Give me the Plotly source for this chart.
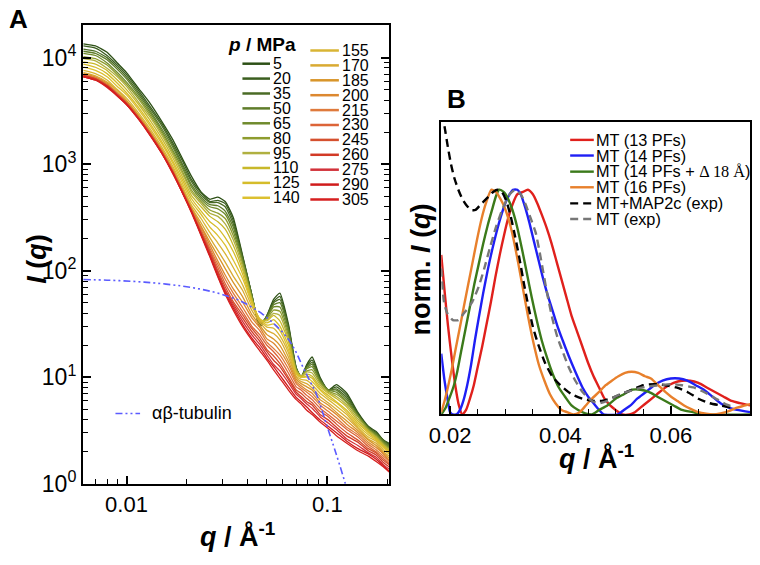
import plotly.graph_objects as go

W, H = 760, 565
OFF_X, OFF_Y = 16, 8          # measured page offset of the exported html
FONT = "Liberation Sans, Arial, sans-serif"


def px(x):
    return (x - OFF_X) / W


def py(y):
    return 1 - (y - OFF_Y) / H


# ---------------- Panel A data ----------------
pressures_MPa = [5, 20, 35, 50, 65, 80, 95, 110, 125, 140, 155,
                 170, 185, 200, 215, 230, 245, 260, 275, 290, 305]
pressure_colors = ["#2d5016", "#3b5e1f", "#4a6b25", "#5f7d2a", "#6f8a2c",
                   "#8e9c2e", "#b0b040", "#c8b82a", "#d5bc2a", "#dcc030",
                   "#d9b534", "#d9aa32", "#d8952a", "#dc8830", "#df7a3c",
                   "#dc6438", "#d5502e", "#d23a26", "#d2323a", "#d01c1c",
                   "#d61f1f"]

q_A = [0.0061, 0.0070, 0.0080, 0.0090, 0.0100, 0.0115, 0.0130, 0.0150, 0.0170,
       0.0190, 0.0210, 0.0235, 0.0260, 0.0285, 0.0310, 0.0340, 0.0380, 0.0420,
       0.0460, 0.0500, 0.0540, 0.0580, 0.0640, 0.0700, 0.0740, 0.0790, 0.0840,
       0.0920, 0.1010, 0.1110, 0.1250, 0.1420, 0.1600, 0.1750, 0.1900, 0.2030]

# log10 I(q), one list per pressure
log10_I_005 = [4.13, 4.11, 4.05, 3.95, 3.86, 3.71, 3.58, 3.40, 3.23, 3.05, 2.89, 2.74, 2.67, 2.69, 2.65, 2.50, 2.13, 1.78, 1.47, 1.58, 1.73, 1.79, 1.50, 1.09, 1.00, 1.12, 1.19, 1.00, 0.88, 0.93, 0.85, 0.67, 0.54, 0.49, 0.41, 0.38]
log10_I_020 = [4.11, 4.09, 4.02, 3.93, 3.84, 3.69, 3.55, 3.38, 3.20, 3.03, 2.86, 2.73, 2.65, 2.66, 2.63, 2.47, 2.12, 1.78, 1.48, 1.58, 1.71, 1.76, 1.48, 1.09, 1.00, 1.11, 1.16, 0.99, 0.88, 0.91, 0.83, 0.66, 0.53, 0.48, 0.41, 0.37]
log10_I_035 = [4.08, 4.06, 4.00, 3.91, 3.82, 3.67, 3.53, 3.36, 3.18, 3.00, 2.84, 2.71, 2.64, 2.64, 2.60, 2.44, 2.11, 1.78, 1.49, 1.57, 1.70, 1.73, 1.47, 1.08, 1.00, 1.10, 1.14, 0.98, 0.88, 0.89, 0.81, 0.65, 0.53, 0.47, 0.41, 0.36]
log10_I_050 = [4.06, 4.04, 3.98, 3.89, 3.80, 3.65, 3.51, 3.33, 3.16, 2.98, 2.81, 2.69, 2.62, 2.61, 2.56, 2.41, 2.09, 1.77, 1.50, 1.57, 1.68, 1.70, 1.45, 1.08, 1.01, 1.09, 1.12, 0.97, 0.88, 0.88, 0.79, 0.64, 0.52, 0.47, 0.40, 0.35]
log10_I_065 = [4.04, 4.02, 3.95, 3.86, 3.77, 3.63, 3.49, 3.31, 3.13, 2.96, 2.79, 2.67, 2.60, 2.58, 2.53, 2.37, 2.07, 1.76, 1.51, 1.56, 1.66, 1.66, 1.42, 1.07, 1.01, 1.08, 1.10, 0.96, 0.88, 0.86, 0.77, 0.64, 0.52, 0.46, 0.39, 0.34]
log10_I_080 = [4.01, 3.99, 3.93, 3.84, 3.75, 3.61, 3.47, 3.29, 3.11, 2.93, 2.76, 2.65, 2.57, 2.54, 2.49, 2.33, 2.06, 1.75, 1.52, 1.55, 1.63, 1.62, 1.39, 1.07, 1.01, 1.06, 1.07, 0.95, 0.87, 0.84, 0.76, 0.63, 0.51, 0.45, 0.38, 0.33]
log10_I_095 = [3.99, 3.97, 3.90, 3.82, 3.73, 3.58, 3.45, 3.27, 3.09, 2.91, 2.74, 2.63, 2.54, 2.51, 2.44, 2.29, 2.03, 1.74, 1.53, 1.54, 1.60, 1.58, 1.36, 1.06, 1.01, 1.05, 1.04, 0.93, 0.86, 0.82, 0.74, 0.61, 0.50, 0.44, 0.37, 0.32]
log10_I_110 = [3.96, 3.94, 3.88, 3.79, 3.70, 3.56, 3.42, 3.24, 3.06, 2.88, 2.71, 2.60, 2.51, 2.46, 2.39, 2.24, 2.00, 1.73, 1.54, 1.53, 1.58, 1.53, 1.34, 1.05, 1.01, 1.03, 1.01, 0.91, 0.85, 0.80, 0.72, 0.59, 0.49, 0.43, 0.36, 0.31]
log10_I_125 = [3.94, 3.91, 3.85, 3.76, 3.67, 3.53, 3.39, 3.21, 3.03, 2.85, 2.68, 2.56, 2.46, 2.40, 2.31, 2.18, 1.96, 1.71, 1.55, 1.51, 1.54, 1.48, 1.30, 1.04, 1.00, 1.01, 0.99, 0.89, 0.83, 0.77, 0.69, 0.57, 0.48, 0.42, 0.35, 0.30]
log10_I_140 = [3.91, 3.88, 3.82, 3.73, 3.65, 3.51, 3.37, 3.19, 3.01, 2.82, 2.65, 2.53, 2.41, 2.33, 2.24, 2.10, 1.92, 1.70, 1.55, 1.49, 1.50, 1.44, 1.26, 1.03, 1.00, 1.00, 0.96, 0.88, 0.81, 0.76, 0.67, 0.55, 0.46, 0.41, 0.34, 0.29]
log10_I_155 = [3.88, 3.85, 3.79, 3.70, 3.62, 3.48, 3.34, 3.16, 2.98, 2.79, 2.62, 2.49, 2.36, 2.26, 2.16, 2.03, 1.86, 1.67, 1.54, 1.47, 1.46, 1.39, 1.23, 1.01, 0.98, 0.97, 0.93, 0.85, 0.79, 0.73, 0.65, 0.53, 0.44, 0.40, 0.32, 0.28]
log10_I_170 = [3.86, 3.83, 3.77, 3.69, 3.60, 3.46, 3.32, 3.14, 2.96, 2.77, 2.60, 2.45, 2.31, 2.19, 2.08, 1.95, 1.81, 1.63, 1.52, 1.44, 1.41, 1.35, 1.19, 1.00, 0.96, 0.94, 0.90, 0.82, 0.76, 0.70, 0.62, 0.52, 0.42, 0.38, 0.30, 0.26]
log10_I_185 = [3.85, 3.82, 3.76, 3.67, 3.59, 3.45, 3.31, 3.13, 2.94, 2.76, 2.59, 2.42, 2.27, 2.14, 2.02, 1.89, 1.75, 1.59, 1.49, 1.40, 1.36, 1.30, 1.15, 0.98, 0.94, 0.91, 0.88, 0.79, 0.74, 0.67, 0.59, 0.50, 0.41, 0.36, 0.29, 0.24]
log10_I_200 = [3.84, 3.81, 3.75, 3.66, 3.58, 3.44, 3.30, 3.12, 2.94, 2.75, 2.58, 2.41, 2.24, 2.09, 1.96, 1.83, 1.70, 1.56, 1.47, 1.36, 1.32, 1.25, 1.12, 0.96, 0.92, 0.88, 0.85, 0.76, 0.71, 0.65, 0.56, 0.48, 0.39, 0.34, 0.28, 0.22]
log10_I_215 = [3.84, 3.81, 3.74, 3.66, 3.58, 3.44, 3.30, 3.12, 2.93, 2.75, 2.57, 2.39, 2.21, 2.06, 1.92, 1.79, 1.65, 1.52, 1.44, 1.33, 1.27, 1.21, 1.08, 0.94, 0.90, 0.86, 0.82, 0.74, 0.68, 0.62, 0.53, 0.46, 0.37, 0.32, 0.26, 0.21]
log10_I_230 = [3.83, 3.80, 3.74, 3.66, 3.57, 3.43, 3.30, 3.11, 2.93, 2.74, 2.57, 2.37, 2.19, 2.03, 1.88, 1.75, 1.61, 1.48, 1.40, 1.30, 1.24, 1.17, 1.04, 0.91, 0.88, 0.83, 0.79, 0.71, 0.65, 0.59, 0.51, 0.44, 0.35, 0.30, 0.24, 0.19]
log10_I_245 = [3.83, 3.80, 3.74, 3.65, 3.57, 3.43, 3.29, 3.11, 2.93, 2.74, 2.57, 2.36, 2.18, 2.00, 1.85, 1.71, 1.58, 1.46, 1.37, 1.26, 1.20, 1.13, 1.00, 0.88, 0.85, 0.80, 0.76, 0.68, 0.63, 0.56, 0.48, 0.41, 0.33, 0.29, 0.22, 0.18]
log10_I_260 = [3.83, 3.80, 3.73, 3.65, 3.57, 3.43, 3.29, 3.11, 2.92, 2.74, 2.56, 2.35, 2.16, 1.98, 1.82, 1.69, 1.55, 1.43, 1.34, 1.24, 1.16, 1.10, 0.98, 0.86, 0.82, 0.77, 0.74, 0.65, 0.60, 0.53, 0.45, 0.39, 0.31, 0.27, 0.20, 0.16]
log10_I_275 = [3.82, 3.79, 3.73, 3.65, 3.56, 3.43, 3.29, 3.10, 2.92, 2.73, 2.56, 2.34, 2.15, 1.96, 1.81, 1.67, 1.52, 1.40, 1.31, 1.21, 1.12, 1.06, 0.95, 0.84, 0.80, 0.75, 0.71, 0.63, 0.57, 0.51, 0.42, 0.36, 0.29, 0.25, 0.18, 0.14]
log10_I_290 = [3.82, 3.79, 3.73, 3.64, 3.56, 3.42, 3.28, 3.10, 2.92, 2.73, 2.56, 2.34, 2.14, 1.95, 1.79, 1.65, 1.49, 1.37, 1.28, 1.18, 1.10, 1.02, 0.91, 0.81, 0.77, 0.72, 0.67, 0.60, 0.54, 0.48, 0.40, 0.33, 0.28, 0.23, 0.17, 0.12]
log10_I_305 = [3.82, 3.79, 3.72, 3.64, 3.56, 3.42, 3.28, 3.10, 2.91, 2.73, 2.55, 2.33, 2.13, 1.94, 1.78, 1.63, 1.47, 1.35, 1.25, 1.16, 1.07, 0.99, 0.88, 0.79, 0.75, 0.69, 0.65, 0.58, 0.52, 0.45, 0.38, 0.31, 0.26, 0.21, 0.16, 0.11]

curves_A = [log10_I_005, log10_I_020, log10_I_035, log10_I_050, log10_I_065,
            log10_I_080, log10_I_095, log10_I_110, log10_I_125, log10_I_140,
            log10_I_155, log10_I_170, log10_I_185, log10_I_200, log10_I_215,
            log10_I_230, log10_I_245, log10_I_260, log10_I_275, log10_I_290,
            log10_I_305]

q_tubulin = [0.0061, 0.0080, 0.0107, 0.0140, 0.0187, 0.0230, 0.0272, 0.0320,
             0.0369, 0.0420, 0.0477, 0.0550, 0.0626, 0.0690, 0.0751, 0.0810,
             0.0881, 0.0950, 0.1017, 0.1080, 0.1140, 0.1230, 0.1300]
I_tubulin = [82.6, 81.5, 79.5, 76.5, 72, 67.5, 63, 57.5, 52, 45.5, 39, 31,
             24, 18, 12.8, 9.6, 7.0, 4.6, 3.1, 2.2, 1.6, 1.0, 0.7]

# ---------------- Panel B data ----------------
q_13PF = [0.0184, 0.0190, 0.0196, 0.0203, 0.0210, 0.0216, 0.0222, 0.0229, 0.0236, 0.0243, 0.0250, 0.0258, 0.0266, 0.0274, 0.0282, 0.0290, 0.0298, 0.0306, 0.0314, 0.0322, 0.0332, 0.0341, 0.0350, 0.0358, 0.0366, 0.0375, 0.0384, 0.0393, 0.0402, 0.0411, 0.0420, 0.0430, 0.0440, 0.0450, 0.0460, 0.0470, 0.0480, 0.0490, 0.0500, 0.0512, 0.0525, 0.0535, 0.0545, 0.0560, 0.0575, 0.0590, 0.0605, 0.0620, 0.0635, 0.0650, 0.0665, 0.0680, 0.0695, 0.0710, 0.0725, 0.0744]
n_13PF = [0.71, 0.55, 0.40, 0.25, 0.12, 0.04, 0.00, 0.02, 0.07, 0.13, 0.21, 0.30, 0.40, 0.50, 0.61, 0.71, 0.80, 0.88, 0.94, 0.98, 0.99, 1.00, 0.98, 0.94, 0.89, 0.83, 0.76, 0.68, 0.60, 0.52, 0.44, 0.37, 0.30, 0.23, 0.17, 0.12, 0.07, 0.04, 0.02, 0.00, 0.00, 0.01, 0.03, 0.06, 0.09, 0.12, 0.14, 0.15, 0.15, 0.14, 0.12, 0.10, 0.08, 0.06, 0.05, 0.04]

q_14PF = [0.0184, 0.0190, 0.0196, 0.0200, 0.0204, 0.0212, 0.0218, 0.0224, 0.0231, 0.0238, 0.0245, 0.0252, 0.0260, 0.0268, 0.0276, 0.0284, 0.0292, 0.0300, 0.0308, 0.0314, 0.0322, 0.0328, 0.0335, 0.0343, 0.0351, 0.0359, 0.0368, 0.0377, 0.0386, 0.0395, 0.0404, 0.0415, 0.0427, 0.0440, 0.0450, 0.0460, 0.0470, 0.0478, 0.0504, 0.0515, 0.0527, 0.0539, 0.0555, 0.0570, 0.0585, 0.0600, 0.0615, 0.0630, 0.0645, 0.0660, 0.0675, 0.0690, 0.0705, 0.0720, 0.0744]
n_14PF = [0.27, 0.15, 0.06, 0.01, 0.00, 0.00, 0.02, 0.06, 0.13, 0.22, 0.33, 0.43, 0.54, 0.64, 0.73, 0.81, 0.88, 0.94, 0.98, 1.00, 1.00, 0.98, 0.93, 0.86, 0.78, 0.70, 0.61, 0.53, 0.46, 0.39, 0.33, 0.26, 0.19, 0.12, 0.08, 0.05, 0.02, 0.00, 0.00, 0.02, 0.04, 0.07, 0.10, 0.13, 0.15, 0.16, 0.16, 0.15, 0.13, 0.11, 0.08, 0.05, 0.03, 0.02, 0.01]

q_14PF_d18 = [0.0184, 0.0192, 0.0200, 0.0207, 0.0213, 0.0220, 0.0228, 0.0236, 0.0244, 0.0252, 0.0260, 0.0268, 0.0276, 0.0283, 0.0289, 0.0297, 0.0305, 0.0313, 0.0321, 0.0330, 0.0339, 0.0348, 0.0357, 0.0366, 0.0376, 0.0386, 0.0397, 0.0408, 0.0420, 0.0432, 0.0445, 0.0457, 0.0470, 0.0485, 0.0500, 0.0515, 0.0530, 0.0545, 0.0560, 0.0575, 0.0590, 0.0605, 0.0620, 0.0640, 0.0660, 0.0744]
n_14PF_d18 = [0.00, 0.03, 0.08, 0.13, 0.19, 0.28, 0.38, 0.48, 0.58, 0.67, 0.76, 0.84, 0.91, 0.97, 1.00, 0.99, 0.96, 0.91, 0.84, 0.74, 0.63, 0.52, 0.42, 0.33, 0.25, 0.18, 0.12, 0.08, 0.04, 0.02, 0.005, 0.00, 0.02, 0.04, 0.07, 0.09, 0.11, 0.11, 0.10, 0.08, 0.06, 0.04, 0.02, 0.01, 0.00, 0.00]

q_16PF = [0.0184, 0.0190, 0.0196, 0.0203, 0.0210, 0.0218, 0.0225, 0.0233, 0.0241, 0.0249, 0.0257, 0.0265, 0.0275, 0.0283, 0.0291, 0.0299, 0.0307, 0.0315, 0.0323, 0.0332, 0.0341, 0.0351, 0.0361, 0.0371, 0.0381, 0.0391, 0.0402, 0.0412, 0.0423, 0.0435, 0.0446, 0.0457, 0.0470, 0.0482, 0.0493, 0.0505, 0.0517, 0.0529, 0.0541, 0.0553, 0.0564, 0.0577, 0.0590, 0.0600, 0.0612, 0.0624, 0.0636, 0.0650, 0.0664, 0.0677, 0.0690, 0.0705, 0.0720, 0.0735, 0.0748]
n_16PF = [0.01, 0.06, 0.12, 0.20, 0.29, 0.39, 0.48, 0.58, 0.68, 0.78, 0.87, 0.94, 1.00, 0.99, 0.96, 0.92, 0.86, 0.78, 0.68, 0.56, 0.44, 0.32, 0.22, 0.15, 0.09, 0.05, 0.02, 0.01, 0.00, 0.01, 0.04, 0.07, 0.10, 0.13, 0.15, 0.17, 0.185, 0.19, 0.185, 0.17, 0.16, 0.13, 0.10, 0.08, 0.06, 0.04, 0.025, 0.01, 0.003, 0.00, 0.005, 0.015, 0.03, 0.04, 0.05]

q_MAP2c = [0.0185, 0.0190, 0.0196, 0.0202, 0.0208, 0.0215, 0.0222, 0.0230, 0.0238, 0.0246, 0.0254, 0.0262, 0.0270, 0.0278, 0.0286, 0.0294, 0.0302, 0.0310, 0.0318, 0.0326, 0.0334, 0.0342, 0.0350, 0.0360, 0.0372, 0.0385, 0.0400, 0.0420, 0.0440, 0.0460, 0.0475, 0.0490, 0.0510, 0.0530, 0.0550, 0.0570, 0.0590, 0.0610, 0.0630, 0.0650, 0.0670, 0.0690, 0.0712]
n_MAP2c = [1.34, 1.28, 1.19, 1.11, 1.05, 1.00, 0.96, 0.93, 0.91, 0.91, 0.93, 0.95, 0.97, 0.99, 1.00, 0.99, 0.95, 0.88, 0.79, 0.69, 0.58, 0.48, 0.39, 0.31, 0.23, 0.17, 0.13, 0.09, 0.07, 0.06, 0.06, 0.07, 0.09, 0.11, 0.13, 0.135, 0.13, 0.12, 0.10, 0.07, 0.05, 0.04, 0.03]

q_MTexp = [0.0184, 0.0189, 0.0195, 0.0205, 0.0215, 0.0225, 0.0240, 0.0252, 0.0262, 0.0272, 0.0284, 0.0296, 0.0308, 0.0318, 0.0328, 0.0336, 0.0345, 0.0355, 0.0364, 0.0375, 0.0386, 0.0395, 0.0404, 0.0415, 0.0427, 0.0440, 0.0457, 0.0470, 0.0485, 0.0500, 0.0520, 0.0540, 0.0560, 0.0580, 0.0600, 0.0620, 0.0641, 0.0660, 0.0682, 0.0700, 0.0712]
n_MTexp = [0.65, 0.50, 0.45, 0.42, 0.42, 0.45, 0.50, 0.57, 0.65, 0.74, 0.84, 0.92, 0.98, 1.00, 0.98, 0.94, 0.88, 0.81, 0.70, 0.55, 0.42, 0.34, 0.28, 0.21, 0.15, 0.10, 0.06, 0.05, 0.06, 0.08, 0.10, 0.115, 0.125, 0.13, 0.135, 0.13, 0.12, 0.10, 0.07, 0.045, 0.035]

series_B = [
    ("MT (13 PFs)", q_13PF, n_13PF, "#e0201c", "solid"),
    ("MT (14 PFs)", q_14PF, n_14PF, "#1f1ff5", "solid"),
    ("MT (14 PFs + <span style=\"font-family:'Liberation Serif',serif\">&#916; 18 Å</span>)",
     q_14PF_d18, n_14PF_d18, "#3b7a1a", "solid"),
    ("MT (16 PFs)", q_16PF, n_16PF, "#e8802c", "solid"),
    ("MT+MAP2c (exp)", q_MAP2c, n_MAP2c, "#000000", "8px,5px"),
    ("MT (exp)", q_MTexp, n_MTexp, "#777777", "8px,5px"),
]

fig = go.Figure()

# Panel A curves
for p, col, logI in zip(pressures_MPa, pressure_colors, curves_A):
    fig.add_trace(go.Scatter(
        x=q_A, y=[10 ** v for v in logI], mode="lines",
        line=dict(color=col, width=1.3, shape="spline", smoothing=0.5),
        name=f"{p} MPa", xaxis="x", yaxis="y", showlegend=False))

tub_dash = "7px,3px,2px,3px,2px,3px"
fig.add_trace(go.Scatter(
    x=q_tubulin, y=I_tubulin, mode="lines",
    line=dict(color="#5b5bff", width=1.6, dash=tub_dash, shape="spline"),
    name="αβ-tubulin", xaxis="x", yaxis="y", showlegend=False))

# Panel B curves
for label, qv, nv, col, dash in series_B:
    fig.add_trace(go.Scatter(
        x=qv, y=nv, mode="lines",
        line=dict(color=col, width=2.4, dash=dash, shape="spline", smoothing=0.6),
        name=label, xaxis="x2", yaxis="y2", showlegend=False))

shapes = []
annotations = []


def note(x, y, text, size, xanchor="center", yanchor="middle", angle=0):
    annotations.append(dict(x=px(x), y=py(y), xref="paper", yref="paper",
                            text=text, showarrow=False, xanchor=xanchor,
                            yanchor=yanchor, textangle=angle, borderpad=0,
                            font=dict(size=size, family=FONT, color="black")))


# Panel A legend
note(262, 45, "<b><i>p</i> / MPa</b>", 19)
for i, (p, col) in enumerate(zip(pressures_MPa, pressure_colors)):
    if i < 10:
        lx0, lx1, tx, ty = 242, 270, 272, 65 + 15.25 * i
    else:
        j = i - 10
        lx0, lx1, tx, ty = 311, 340, 342, 51.5 + 15.25 * j
    shapes.append(dict(type="line", xref="paper", yref="paper",
                       x0=px(lx0), x1=px(lx1), y0=py(ty), y1=py(ty),
                       line=dict(color=col, width=2.5)))
    note(tx, ty, str(p), 16, xanchor="left")

# tubulin legend
shapes.append(dict(type="line", xref="paper", yref="paper",
                   x0=px(113), x1=px(138), y0=py(423), y1=py(423),
                   line=dict(color="#5b5bff", width=1.6, dash=tub_dash)))
note(149, 423, "αβ-tubulin", 18, xanchor="left")

# Panel B legend
rowsB = [143, 159, 175.5, 191.5, 208, 224]
for (label, qv, nv, col, dash), ty in zip(series_B, rowsB):
    shapes.append(dict(type="line", xref="paper", yref="paper",
                       x0=px(575), x1=px(599), y0=py(ty), y1=py(ty),
                       line=dict(color=col, width=2.4, dash=dash)))
    note(600, ty, label, 16.3, xanchor="left")

# Titles and panel letters
note(14, 19, "<b>A</b>", 26)
note(459, 101, "<b>B</b>", 26)
note(33, 265, "<b><i>I</i> (<i>q</i>)</b>", 27, angle=-90)
note(237, 547, "<b><i>q</i> / Å<sup>-1</sup></b>", 27)
note(423, 276, "<b>norm. <i>I</i> (<i>q</i>)</b>", 27, angle=-90)
note(602, 468, "<b><i>q</i> / Å<sup>-1</sup></b>", 27)

tickfont = dict(size=22, family=FONT, color="black")
axis_common = dict(showline=True, linecolor="black", linewidth=2,
                   showgrid=False, zeroline=False, ticks="inside",
                   tickcolor="black", tickwidth=1.5, ticklen=8,
                   tickfont=tickfont)

x_minor = [0.007, 0.008, 0.009, 0.02, 0.03, 0.04, 0.05, 0.06, 0.07, 0.08, 0.09, 0.2]
y_minor = [m * 10 ** e for e in range(0, 5) for m in range(2, 10)]

fig.update_layout(
    width=W, height=H, margin=dict(l=0, r=0, t=0, b=0),
    plot_bgcolor="white", paper_bgcolor="white",
    font=dict(family=FONT, color="black"),
    xaxis=dict(axis_common, type="log", range=[-2.2168, -0.6925],
               domain=[px(80), px(391)], anchor="y", mirror=True,
               tickvals=[0.01, 0.1], ticktext=["0.01", "0.1"],
               minor=dict(tickvals=x_minor, ticks="inside", ticklen=5,
                          tickwidth=1.2, tickcolor="black")),
    yaxis=dict(axis_common, type="log", range=[0, 4.31],
               domain=[py(495), py(25)], anchor="x", mirror="ticks",
               tickvals=[1, 10, 100, 1000, 10000],
               ticktext=["10<sup>0</sup>", "10<sup>1</sup>", "10<sup>2</sup>",
                         "10<sup>3</sup>", "10<sup>4</sup>"],
               tickfont=dict(size=23, family=FONT, color="black"),
               minor=dict(tickvals=y_minor, ticks="inside", ticklen=5,
                          tickwidth=1.2, tickcolor="black")),
    xaxis2=dict(axis_common, range=[0.0184, 0.0744],
                domain=[px(444), px(758)], anchor="y2", mirror=True,
                tickvals=[0.02, 0.04, 0.06], ticktext=["0.02", "0.04", "0.06"],
                minor=dict(dtick=0.005, tick0=0, ticks="inside", ticklen=5,
                           tickwidth=1.2, tickcolor="black")),
    yaxis2=dict(showline=True, linecolor="black", linewidth=2, mirror=True,
                showgrid=False, zeroline=False, range=[0, 1.30],
                domain=[py(424), py(125)], anchor="x2",
                showticklabels=False, ticks=""),
    shapes=shapes, annotations=annotations,
)

fig.write_html("out.html")
